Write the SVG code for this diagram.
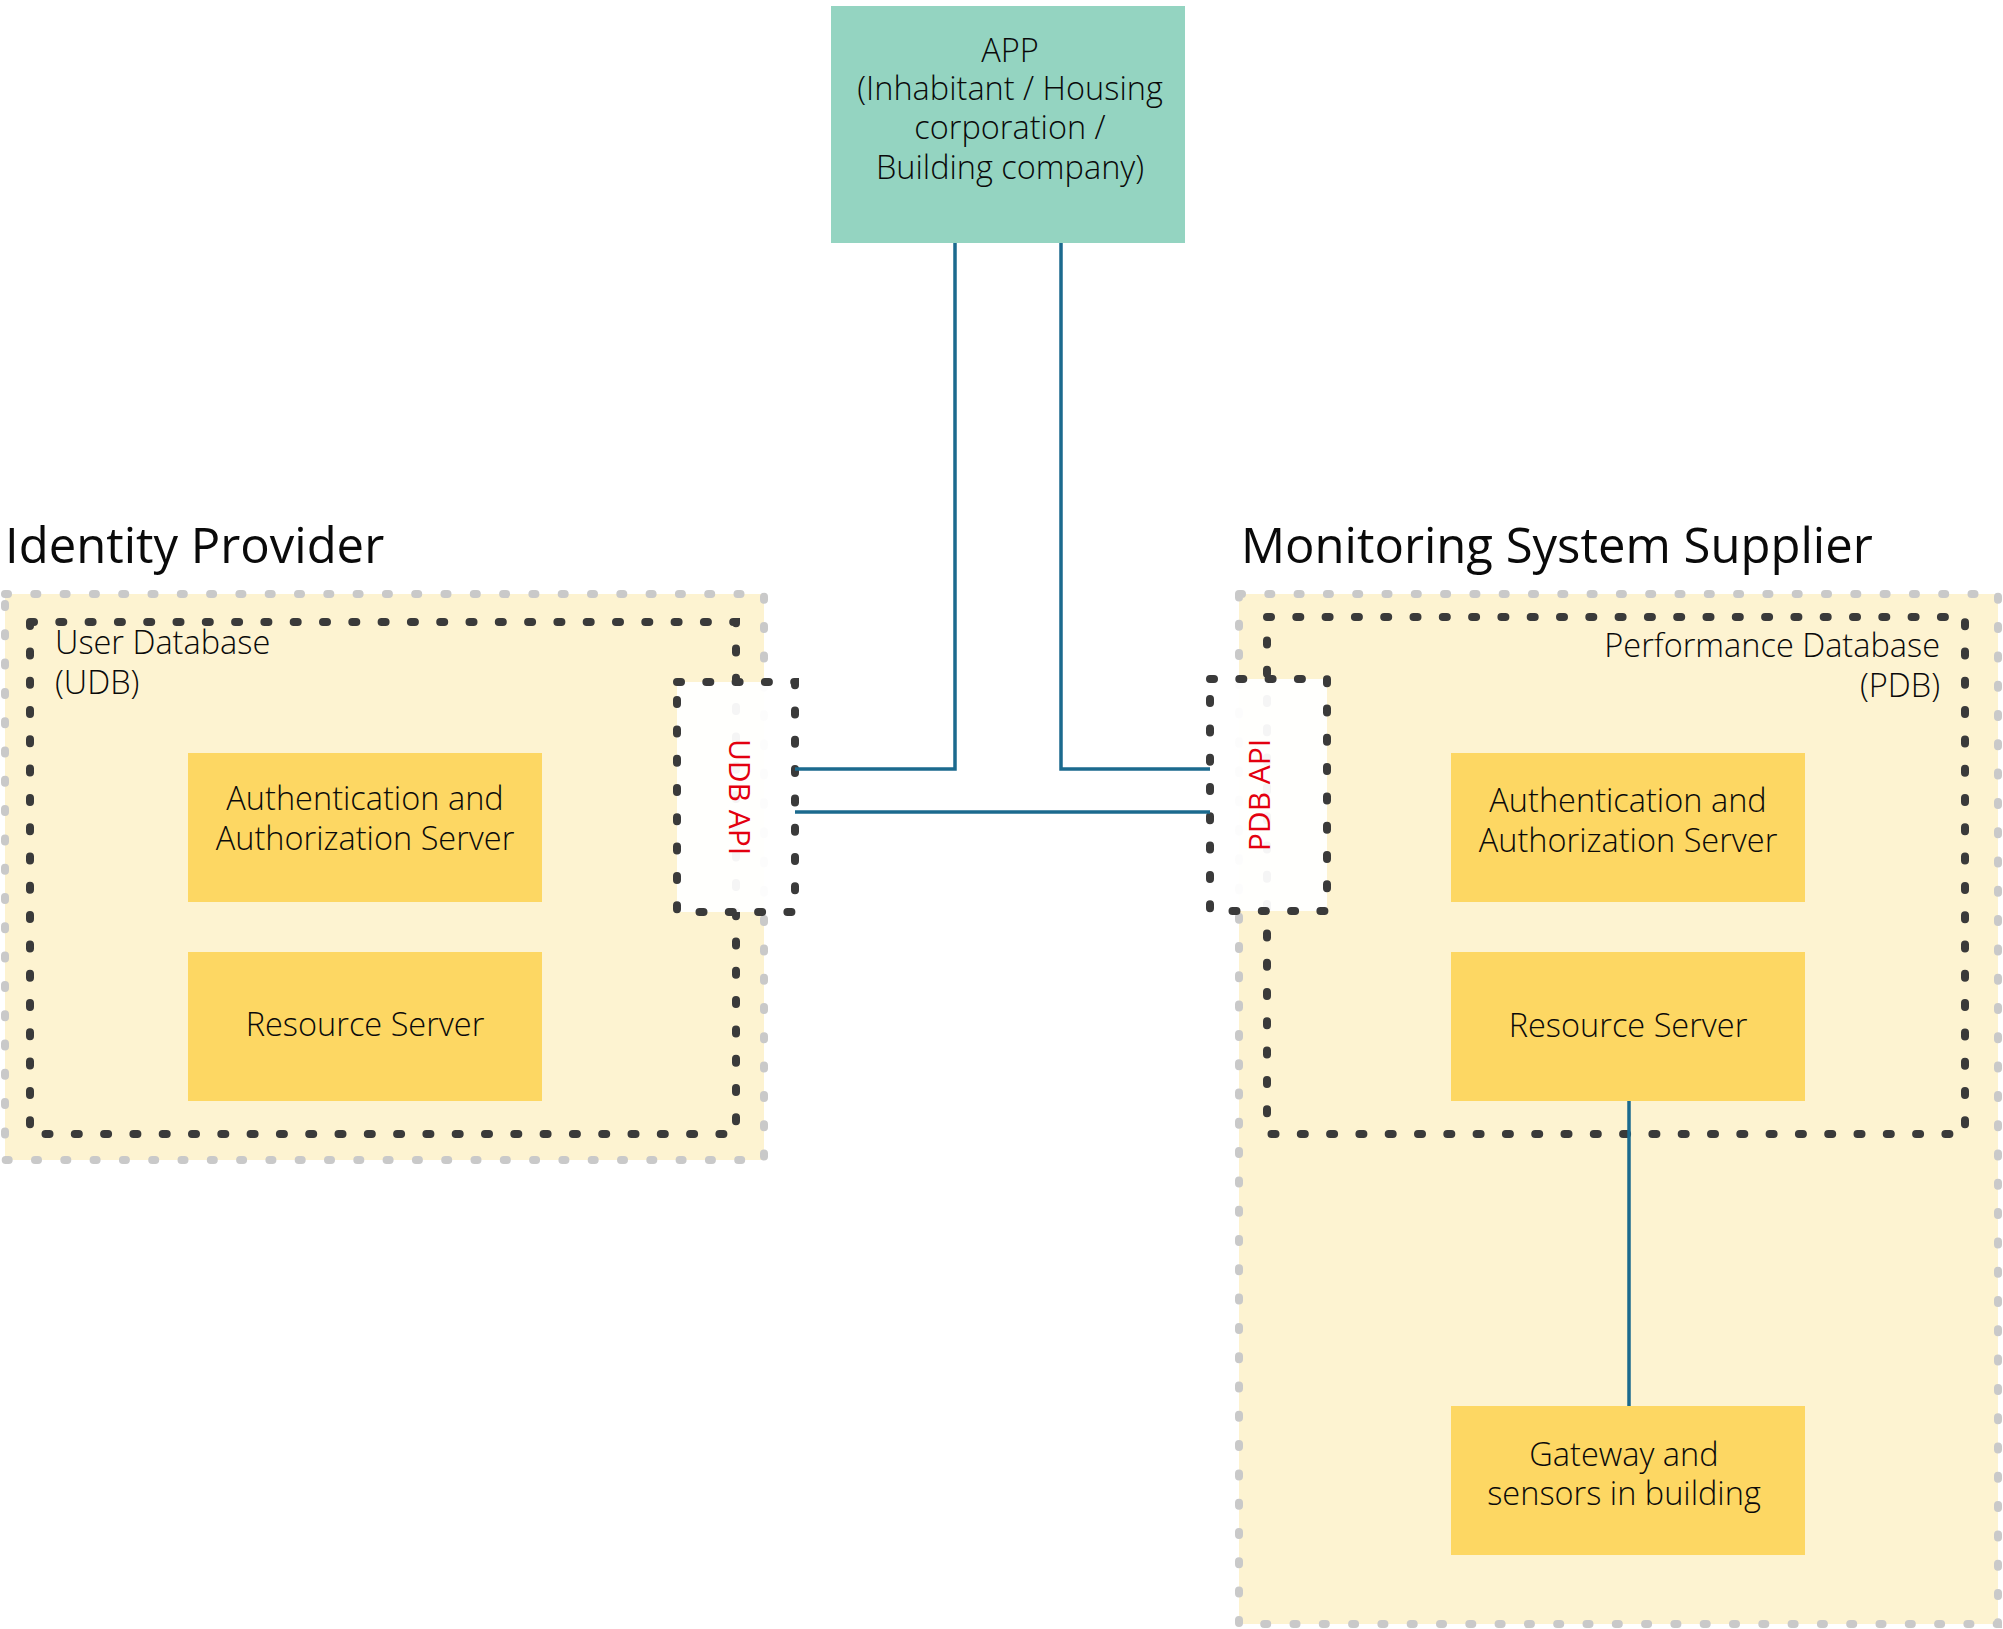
<svg xmlns="http://www.w3.org/2000/svg" width="2003" height="1629" viewBox="0 0 2003 1629">
<style>
text{font-family:"Open Sans","Noto Sans","Liberation Sans",sans-serif;font-weight:300;fill:#0a0a0a;}
.title{font-size:49px;font-weight:400;}
.lbl{font-size:32.5px;}
.api{font-size:30px;fill:#e3000f;font-weight:400;}
.outer{fill:#fdf3d1;stroke:#c9c9c9;stroke-width:8;stroke-dasharray:3 26.3;stroke-linecap:round;}
.inner{fill:none;stroke:#3a3a3a;stroke-width:8;stroke-dasharray:4 25.3;stroke-linecap:round;}
.apibox{fill:#ffffff;fill-opacity:0.95;stroke:#3a3a3a;stroke-width:8;stroke-dasharray:4 25.3;stroke-linecap:round;}
.box{fill:#fdd763;}
.conn{fill:none;stroke:#1b6a8e;stroke-width:3.5;}
</style>
<rect width="2003" height="1629" fill="#ffffff"/>
<g id="identity-provider">
<text class="title" x="5" y="563">Identity Provider</text>
<rect class="outer" x="5" y="594" width="759" height="566"/>
</g>
<g id="monitoring-system-supplier">
<text class="title" x="1241" y="563">Monitoring System Supplier</text>
<rect class="outer" x="1239" y="594" width="759" height="1030"/>
</g>
<g id="udb">
<rect class="inner" x="30" y="622" width="706" height="512"/>
<text class="lbl" x="55" y="654">User Database<tspan x="55" y="694">(UDB)</tspan></text>
</g>
<g id="pdb">
<rect class="inner" x="1267" y="617" width="698" height="517"/>
<text class="lbl" x="1940" y="657" text-anchor="end">Performance Database<tspan x="1940" y="697">(PDB)</tspan></text>
</g>
<g id="udb-auth">
<rect class="box" x="188" y="753" width="354" height="149"/>
<text class="lbl" x="365" y="810" text-anchor="middle">Authentication and<tspan x="365" y="850">Authorization Server</tspan></text>
</g>
<g id="udb-resource">
<rect class="box" x="188" y="952" width="354" height="149"/>
<text class="lbl" x="365" y="1036" text-anchor="middle">Resource Server</text>
</g>
<g id="pdb-auth">
<rect class="box" x="1451" y="753" width="354" height="149"/>
<text class="lbl" x="1628" y="812" text-anchor="middle">Authentication and<tspan x="1628" y="852">Authorization Server</tspan></text>
</g>
<g id="pdb-resource">
<rect class="box" x="1451" y="952" width="354" height="149"/>
<text class="lbl" x="1628" y="1037" text-anchor="middle">Resource Server</text>
</g>
<g id="gateway">
<rect class="box" x="1451" y="1406" width="354" height="149"/>
<text class="lbl" x="1624" y="1466" text-anchor="middle">Gateway and<tspan x="1624" y="1505">sensors in building</tspan></text>
</g>
<g id="udb-api">
<rect class="apibox" x="677" y="682" width="118" height="230"/>
<text class="api" transform="translate(729,797) rotate(90)" text-anchor="middle">UDB API</text>
</g>
<g id="pdb-api">
<rect class="apibox" x="1210" y="679" width="117" height="232"/>
<text class="api" transform="translate(1270,795) rotate(-90)" text-anchor="middle">PDB API</text>
</g>
<g id="app">
<rect x="831" y="6" width="354" height="237" fill="#94d4c1"/>
<text class="lbl" x="1010" y="62" text-anchor="middle">APP<tspan x="1010" y="100">(Inhabitant / Housing</tspan><tspan x="1010" y="139">corporation /</tspan><tspan x="1010" y="179">Building company)</tspan></text>
</g>
<g id="connectors">
<polyline class="conn" points="955,243 955,769 795,769"/>
<polyline class="conn" points="1061,243 1061,769 1210,769"/>
<line class="conn" x1="795" y1="812" x2="1210" y2="812"/>
<line class="conn" x1="1629" y1="1101" x2="1629" y2="1406"/>
</g>
</svg>
